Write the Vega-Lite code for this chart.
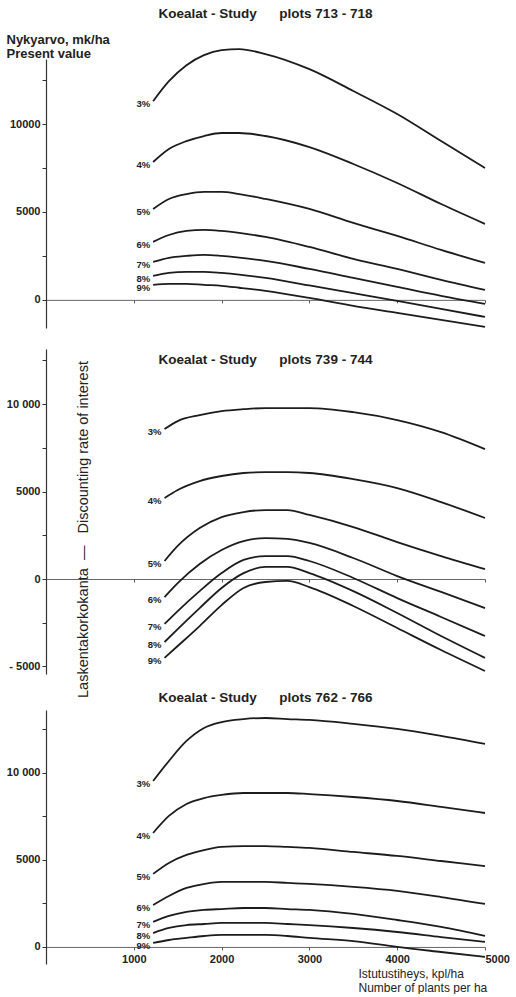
{
  "$schema": "https://vega.github.io/schema/vega-lite/v6.json",
  "padding": {"left": 6, "top": 6, "right": 0, "bottom": 0},
  "background": "white",
  "bounds": "flush",
  "spacing": 21,
  "config": {"view": {"stroke": null}, "font": "Liberation Sans", "axis": {"grid": false}},
  "datasets": {
    "curves": [
      {"panel":1,"rate":"3%","x":1220,"value":11300},{"panel":1,"rate":"3%","x":1400,"value":12440},{"panel":1,"rate":"3%","x":1600,"value":13350},{"panel":1,"rate":"3%","x":1800,"value":13920},{"panel":1,"rate":"3%","x":2000,"value":14200},{"panel":1,"rate":"3%","x":2200,"value":14260},{"panel":1,"rate":"3%","x":2500,"value":13980},{"panel":1,"rate":"3%","x":3000,"value":13120},{"panel":1,"rate":"3%","x":3500,"value":11880},{"panel":1,"rate":"3%","x":4000,"value":10570},{"panel":1,"rate":"3%","x":4500,"value":9030},{"panel":1,"rate":"3%","x":5000,"value":7500},
      {"panel":1,"rate":"4%","x":1220,"value":7840},{"panel":1,"rate":"4%","x":1400,"value":8580},{"panel":1,"rate":"4%","x":1600,"value":9030},{"panel":1,"rate":"4%","x":1800,"value":9320},{"panel":1,"rate":"4%","x":2000,"value":9490},{"panel":1,"rate":"4%","x":2200,"value":9490},{"panel":1,"rate":"4%","x":2500,"value":9320},{"panel":1,"rate":"4%","x":3000,"value":8690},{"panel":1,"rate":"4%","x":3500,"value":7730},{"panel":1,"rate":"4%","x":4000,"value":6650},{"panel":1,"rate":"4%","x":4500,"value":5450},{"panel":1,"rate":"4%","x":5000,"value":4320},
      {"panel":1,"rate":"5%","x":1220,"value":5170},{"panel":1,"rate":"5%","x":1400,"value":5740},{"panel":1,"rate":"5%","x":1600,"value":6020},{"panel":1,"rate":"5%","x":1800,"value":6140},{"panel":1,"rate":"5%","x":2000,"value":6140},{"panel":1,"rate":"5%","x":2200,"value":6020},{"panel":1,"rate":"5%","x":2500,"value":5740},{"panel":1,"rate":"5%","x":3000,"value":5170},{"panel":1,"rate":"5%","x":3500,"value":4375},{"panel":1,"rate":"5%","x":4000,"value":3640},{"panel":1,"rate":"5%","x":4500,"value":2840},{"panel":1,"rate":"5%","x":5000,"value":2100},
      {"panel":1,"rate":"6%","x":1220,"value":3300},{"panel":1,"rate":"6%","x":1400,"value":3690},{"panel":1,"rate":"6%","x":1600,"value":3920},{"panel":1,"rate":"6%","x":1800,"value":3980},{"panel":1,"rate":"6%","x":2000,"value":3920},{"panel":1,"rate":"6%","x":2200,"value":3810},{"panel":1,"rate":"6%","x":2500,"value":3580},{"panel":1,"rate":"6%","x":3000,"value":3010},{"panel":1,"rate":"6%","x":3500,"value":2330},{"panel":1,"rate":"6%","x":4000,"value":1760},{"panel":1,"rate":"6%","x":4500,"value":1140},{"panel":1,"rate":"6%","x":5000,"value":570},
      {"panel":1,"rate":"7%","x":1220,"value":2160},{"panel":1,"rate":"7%","x":1400,"value":2390},{"panel":1,"rate":"7%","x":1600,"value":2500},{"panel":1,"rate":"7%","x":1800,"value":2560},{"panel":1,"rate":"7%","x":2000,"value":2500},{"panel":1,"rate":"7%","x":2200,"value":2400},{"panel":1,"rate":"7%","x":2500,"value":2220},{"panel":1,"rate":"7%","x":3000,"value":1760},{"panel":1,"rate":"7%","x":3500,"value":1250},{"panel":1,"rate":"7%","x":4000,"value":740},{"panel":1,"rate":"7%","x":4500,"value":230},{"panel":1,"rate":"7%","x":5000,"value":-230},
      {"panel":1,"rate":"8%","x":1220,"value":1360},{"panel":1,"rate":"8%","x":1400,"value":1530},{"panel":1,"rate":"8%","x":1600,"value":1590},{"panel":1,"rate":"8%","x":1800,"value":1590},{"panel":1,"rate":"8%","x":2000,"value":1530},{"panel":1,"rate":"8%","x":2200,"value":1440},{"panel":1,"rate":"8%","x":2500,"value":1250},{"panel":1,"rate":"8%","x":3000,"value":820},{"panel":1,"rate":"8%","x":3500,"value":380},{"panel":1,"rate":"8%","x":4000,"value":-60},{"panel":1,"rate":"8%","x":4500,"value":-510},{"panel":1,"rate":"8%","x":5000,"value":-970},
      {"panel":1,"rate":"9%","x":1220,"value":850},{"panel":1,"rate":"9%","x":1400,"value":910},{"panel":1,"rate":"9%","x":1600,"value":910},{"panel":1,"rate":"9%","x":1800,"value":850},{"panel":1,"rate":"9%","x":2000,"value":800},{"panel":1,"rate":"9%","x":2200,"value":690},{"panel":1,"rate":"9%","x":2500,"value":510},{"panel":1,"rate":"9%","x":3000,"value":110},{"panel":1,"rate":"9%","x":3500,"value":-340},{"panel":1,"rate":"9%","x":4000,"value":-740},{"panel":1,"rate":"9%","x":4500,"value":-1140},{"panel":1,"rate":"9%","x":5000,"value":-1530},

      {"panel":2,"rate":"3%","x":1350,"value":8570},{"panel":2,"rate":"3%","x":1500,"value":9030},{"panel":2,"rate":"3%","x":1750,"value":9370},{"panel":2,"rate":"3%","x":2000,"value":9600},{"panel":2,"rate":"3%","x":2250,"value":9710},{"panel":2,"rate":"3%","x":2500,"value":9770},{"panel":2,"rate":"3%","x":2750,"value":9770},{"panel":2,"rate":"3%","x":3000,"value":9770},{"panel":2,"rate":"3%","x":3500,"value":9540},{"panel":2,"rate":"3%","x":4000,"value":9090},{"panel":2,"rate":"3%","x":4500,"value":8400},{"panel":2,"rate":"3%","x":5000,"value":7430},
      {"panel":2,"rate":"4%","x":1350,"value":4630},{"panel":2,"rate":"4%","x":1500,"value":5090},{"panel":2,"rate":"4%","x":1750,"value":5600},{"panel":2,"rate":"4%","x":2000,"value":5890},{"panel":2,"rate":"4%","x":2250,"value":6060},{"panel":2,"rate":"4%","x":2500,"value":6110},{"panel":2,"rate":"4%","x":2750,"value":6110},{"panel":2,"rate":"4%","x":3000,"value":6060},{"panel":2,"rate":"4%","x":3500,"value":5710},{"panel":2,"rate":"4%","x":4000,"value":5200},{"panel":2,"rate":"4%","x":4500,"value":4400},{"panel":2,"rate":"4%","x":5000,"value":3490},
      {"panel":2,"rate":"5%","x":1350,"value":1030},{"panel":2,"rate":"5%","x":1500,"value":1890},{"panel":2,"rate":"5%","x":1750,"value":2910},{"panel":2,"rate":"5%","x":2000,"value":3540},{"panel":2,"rate":"5%","x":2250,"value":3830},{"panel":2,"rate":"5%","x":2500,"value":3940},{"panel":2,"rate":"5%","x":2750,"value":3940},{"panel":2,"rate":"5%","x":3000,"value":3660},{"panel":2,"rate":"5%","x":3500,"value":2970},{"panel":2,"rate":"5%","x":4000,"value":2110},{"panel":2,"rate":"5%","x":4500,"value":1310},{"panel":2,"rate":"5%","x":5000,"value":570},
      {"panel":2,"rate":"6%","x":1350,"value":-1030},{"panel":2,"rate":"6%","x":1500,"value":-230},{"panel":2,"rate":"6%","x":1750,"value":860},{"panel":2,"rate":"6%","x":2000,"value":1660},{"panel":2,"rate":"6%","x":2250,"value":2170},{"panel":2,"rate":"6%","x":2500,"value":2340},{"panel":2,"rate":"6%","x":2750,"value":2290},{"panel":2,"rate":"6%","x":3000,"value":2060},{"panel":2,"rate":"6%","x":3500,"value":1200},{"panel":2,"rate":"6%","x":4000,"value":170},{"panel":2,"rate":"6%","x":4500,"value":-740},{"panel":2,"rate":"6%","x":5000,"value":-1660},
      {"panel":2,"rate":"7%","x":1350,"value":-2570},{"panel":2,"rate":"7%","x":1500,"value":-1830},{"panel":2,"rate":"7%","x":1750,"value":-690},{"panel":2,"rate":"7%","x":2000,"value":340},{"panel":2,"rate":"7%","x":2250,"value":1090},{"panel":2,"rate":"7%","x":2500,"value":1310},{"panel":2,"rate":"7%","x":2750,"value":1310},{"panel":2,"rate":"7%","x":3000,"value":1030},{"panel":2,"rate":"7%","x":3500,"value":60},{"panel":2,"rate":"7%","x":4000,"value":-1090},{"panel":2,"rate":"7%","x":4500,"value":-2170},{"panel":2,"rate":"7%","x":5000,"value":-3260},
      {"panel":2,"rate":"8%","x":1350,"value":-3600},{"panel":2,"rate":"8%","x":1500,"value":-2860},{"panel":2,"rate":"8%","x":1750,"value":-1660},{"panel":2,"rate":"8%","x":2000,"value":-510},{"panel":2,"rate":"8%","x":2250,"value":340},{"panel":2,"rate":"8%","x":2500,"value":690},{"panel":2,"rate":"8%","x":2750,"value":690},{"panel":2,"rate":"8%","x":3000,"value":340},{"panel":2,"rate":"8%","x":3500,"value":-690},{"panel":2,"rate":"8%","x":4000,"value":-1940},{"panel":2,"rate":"8%","x":4500,"value":-3260},{"panel":2,"rate":"8%","x":5000,"value":-4510},
      {"panel":2,"rate":"9%","x":1350,"value":-4510},{"panel":2,"rate":"9%","x":1500,"value":-3830},{"panel":2,"rate":"9%","x":1750,"value":-2690},{"panel":2,"rate":"9%","x":2000,"value":-1490},{"panel":2,"rate":"9%","x":2250,"value":-510},{"panel":2,"rate":"9%","x":2500,"value":-170},{"panel":2,"rate":"9%","x":2750,"value":-110},{"panel":2,"rate":"9%","x":3000,"value":-460},{"panel":2,"rate":"9%","x":3500,"value":-1540},{"panel":2,"rate":"9%","x":4000,"value":-2800},{"panel":2,"rate":"9%","x":4500,"value":-4060},{"panel":2,"rate":"9%","x":5000,"value":-5260},

      {"panel":3,"rate":"3%","x":1220,"value":9540},{"panel":3,"rate":"3%","x":1400,"value":10690},{"panel":3,"rate":"3%","x":1600,"value":11840},{"panel":3,"rate":"3%","x":1800,"value":12590},{"panel":3,"rate":"3%","x":2000,"value":12930},{"panel":3,"rate":"3%","x":2250,"value":13100},{"panel":3,"rate":"3%","x":2500,"value":13160},{"panel":3,"rate":"3%","x":2750,"value":13100},{"panel":3,"rate":"3%","x":3000,"value":13050},{"panel":3,"rate":"3%","x":3500,"value":12820},{"panel":3,"rate":"3%","x":4000,"value":12530},{"panel":3,"rate":"3%","x":4500,"value":12130},{"panel":3,"rate":"3%","x":5000,"value":11670},
      {"panel":3,"rate":"4%","x":1220,"value":6550},{"panel":3,"rate":"4%","x":1400,"value":7530},{"panel":3,"rate":"4%","x":1600,"value":8220},{"panel":3,"rate":"4%","x":1800,"value":8560},{"panel":3,"rate":"4%","x":2000,"value":8740},{"panel":3,"rate":"4%","x":2250,"value":8850},{"panel":3,"rate":"4%","x":2500,"value":8850},{"panel":3,"rate":"4%","x":2750,"value":8850},{"panel":3,"rate":"4%","x":3000,"value":8790},{"panel":3,"rate":"4%","x":3500,"value":8620},{"panel":3,"rate":"4%","x":4000,"value":8390},{"panel":3,"rate":"4%","x":4500,"value":8050},{"panel":3,"rate":"4%","x":5000,"value":7700},
      {"panel":3,"rate":"5%","x":1220,"value":4200},{"panel":3,"rate":"5%","x":1400,"value":4830},{"panel":3,"rate":"5%","x":1600,"value":5290},{"panel":3,"rate":"5%","x":1800,"value":5570},{"panel":3,"rate":"5%","x":2000,"value":5750},{"panel":3,"rate":"5%","x":2250,"value":5800},{"panel":3,"rate":"5%","x":2500,"value":5800},{"panel":3,"rate":"5%","x":2750,"value":5750},{"panel":3,"rate":"5%","x":3000,"value":5690},{"panel":3,"rate":"5%","x":3500,"value":5460},{"panel":3,"rate":"5%","x":4000,"value":5230},{"panel":3,"rate":"5%","x":4500,"value":4940},{"panel":3,"rate":"5%","x":5000,"value":4650},
      {"panel":3,"rate":"6%","x":1220,"value":2410},{"panel":3,"rate":"6%","x":1400,"value":2930},{"panel":3,"rate":"6%","x":1600,"value":3390},{"panel":3,"rate":"6%","x":1800,"value":3620},{"panel":3,"rate":"6%","x":2000,"value":3740},{"panel":3,"rate":"6%","x":2250,"value":3740},{"panel":3,"rate":"6%","x":2500,"value":3740},{"panel":3,"rate":"6%","x":2750,"value":3680},{"panel":3,"rate":"6%","x":3000,"value":3620},{"panel":3,"rate":"6%","x":3500,"value":3450},{"panel":3,"rate":"6%","x":4000,"value":3220},{"panel":3,"rate":"6%","x":4500,"value":2870},{"panel":3,"rate":"6%","x":5000,"value":2470},
      {"panel":3,"rate":"7%","x":1220,"value":1440},{"panel":3,"rate":"7%","x":1400,"value":1780},{"panel":3,"rate":"7%","x":1600,"value":2010},{"panel":3,"rate":"7%","x":1800,"value":2130},{"panel":3,"rate":"7%","x":2000,"value":2180},{"panel":3,"rate":"7%","x":2250,"value":2240},{"panel":3,"rate":"7%","x":2500,"value":2240},{"panel":3,"rate":"7%","x":2750,"value":2180},{"panel":3,"rate":"7%","x":3000,"value":2130},{"panel":3,"rate":"7%","x":3500,"value":1900},{"panel":3,"rate":"7%","x":4000,"value":1550},{"panel":3,"rate":"7%","x":4500,"value":1150},{"panel":3,"rate":"7%","x":5000,"value":630},
      {"panel":3,"rate":"8%","x":1220,"value":800},{"panel":3,"rate":"8%","x":1400,"value":1090},{"panel":3,"rate":"8%","x":1600,"value":1260},{"panel":3,"rate":"8%","x":1800,"value":1320},{"panel":3,"rate":"8%","x":2000,"value":1380},{"panel":3,"rate":"8%","x":2250,"value":1380},{"panel":3,"rate":"8%","x":2500,"value":1380},{"panel":3,"rate":"8%","x":2750,"value":1320},{"panel":3,"rate":"8%","x":3000,"value":1260},{"panel":3,"rate":"8%","x":3500,"value":1090},{"panel":3,"rate":"8%","x":4000,"value":860},{"panel":3,"rate":"8%","x":4500,"value":570},{"panel":3,"rate":"8%","x":5000,"value":290},
      {"panel":3,"rate":"9%","x":1220,"value":230},{"panel":3,"rate":"9%","x":1400,"value":400},{"panel":3,"rate":"9%","x":1600,"value":520},{"panel":3,"rate":"9%","x":1800,"value":630},{"panel":3,"rate":"9%","x":2000,"value":690},{"panel":3,"rate":"9%","x":2250,"value":690},{"panel":3,"rate":"9%","x":2500,"value":690},{"panel":3,"rate":"9%","x":2750,"value":630},{"panel":3,"rate":"9%","x":3000,"value":520},{"panel":3,"rate":"9%","x":3500,"value":340},{"panel":3,"rate":"9%","x":4000,"value":0},{"panel":3,"rate":"9%","x":4500,"value":-290},{"panel":3,"rate":"9%","x":5000,"value":-570}
    ]
  },
  "vconcat": [
    {
      "width": 439,
      "height": 269,
      "title": {"text": "Koealat - Study\u00a0\u00a0\u00a0\u00a0\u00a0\u00a0plots 713 - 718", "frame": "group", "anchor": "middle", "offset": 12.6, "fontSize": 13.5, "fontWeight": "bold", "color": "#222222", "font": "Liberation Sans"},
      "data": {"name": "curves"},
      "transform": [{"filter": "datum.panel == 1"}],
      "layer": [
        {
          "mark": {"type": "line", "interpolate": "monotone", "strokeWidth": 1.8, "color": "#1c1c1c"},
          "encoding": {
            "x": {"field": "x", "type": "quantitative", "scale": {"domain": [0, 5000], "nice": false, "zero": false},
              "axis": {"orient": "bottom", "offset": -28.13, "values": [1000, 2000, 3000, 4000, 5000], "labels": false, "title": null, "tickSize": 3, "tickColor": "#555555", "domainColor": "#666666", "domainWidth": 1}},
            "y": {"field": "value", "type": "quantitative", "scale": {"domain": [-1600, 13700], "nice": false, "zero": false},
              "axis": {"values": [0, 2500, 5000, 7500, 10000, 12500], "labelExpr": "datum.value % 5000 == 0 ? format(datum.value, 'd') : ''", "labelFontSize": 11, "labelFontWeight": "bold", "labelColor": "#222222", "labelPadding": 2, "tickSize": 4, "tickColor": "#333333", "domainColor": "#333333", "domainWidth": 1.2,
                "title": ["Nykyarvo, mk/ha", "Present value"], "titleAngle": 0, "titleAlign": "left", "titleBaseline": "top", "titleX": -40, "titleY": -26, "titleFontSize": 13, "titleFontWeight": "bold", "titleColor": "#222222", "titleLineHeight": 14.5}},
            "detail": {"field": "rate"}
          }
        },
        {
          "transform": [{"joinaggregate": [{"op": "min", "field": "x", "as": "x0"}], "groupby": ["rate"]}, {"filter": "datum.x == datum.x0"}],
          "mark": {"type": "text", "align": "right", "baseline": "middle", "dx": -3, "dy": 3, "fontSize": 9.5, "fontWeight": "bold", "color": "#222222"},
          "encoding": {"x": {"field": "x", "type": "quantitative"}, "y": {"field": "value", "type": "quantitative"}, "text": {"field": "rate"}}
        }
      ]
    },
    {
      "width": 439,
      "height": 325,
      "title": {"text": "Koealat - Study\u00a0\u00a0\u00a0\u00a0\u00a0\u00a0plots 739 - 744", "frame": "group", "anchor": "middle", "offset": -17.4, "fontSize": 13.5, "fontWeight": "bold", "color": "#222222", "font": "Liberation Sans"},
      "data": {"name": "curves"},
      "transform": [{"filter": "datum.panel == 2"}],
      "layer": [
        {
          "mark": {"type": "line", "interpolate": "monotone", "strokeWidth": 1.8, "color": "#1c1c1c"},
          "encoding": {
            "x": {"field": "x", "type": "quantitative", "scale": {"domain": [0, 5000], "nice": false, "zero": false},
              "axis": {"orient": "bottom", "offset": -95, "values": [1000, 2000, 3000, 4000, 5000], "labels": false, "title": null, "tickSize": 3, "tickColor": "#555555", "domainColor": "#666666", "domainWidth": 1}},
            "y": {"field": "value", "type": "quantitative", "scale": {"domain": [-5430, 13150], "nice": false, "zero": false},
              "axis": {"values": [-5000, -2500, 0, 2500, 5000, 7500, 10000, 12500], "labelExpr": "datum.value == 10000 ? '10 000' : datum.value == -5000 ? '- 5000' : datum.value % 5000 == 0 ? format(datum.value, 'd') : ''", "labelFontSize": 11, "labelFontWeight": "bold", "labelColor": "#222222", "labelPadding": 2, "tickSize": 4, "tickColor": "#333333", "domainColor": "#333333", "domainWidth": 1.2,
                "title": "Laskentakorkokanta\u00a0\u00a0—\u00a0\u00a0\u00a0Discounting rate of interest", "titleAngle": -90, "titleAlign": "center", "titleBaseline": "middle", "titleX": 37, "titleY": 180, "titleFontSize": 14.5, "titleFontWeight": "normal", "titleColor": "#222222"}},
            "detail": {"field": "rate"}
          }
        },
        {
          "transform": [{"joinaggregate": [{"op": "min", "field": "x", "as": "x0"}], "groupby": ["rate"]}, {"filter": "datum.x == datum.x0"}],
          "mark": {"type": "text", "align": "right", "baseline": "middle", "dx": -3, "dy": 3, "fontSize": 9.5, "fontWeight": "bold", "color": "#222222"},
          "encoding": {"x": {"field": "x", "type": "quantitative"}, "y": {"field": "value", "type": "quantitative"}, "text": {"field": "rate"}}
        }
      ]
    },
    {
      "width": 439,
      "height": 269,
      "title": {"text": "Koealat - Study\u00a0\u00a0\u00a0\u00a0\u00a0\u00a0plots 762 - 766", "frame": "group", "anchor": "middle", "offset": -9.4, "fontSize": 13.5, "fontWeight": "bold", "color": "#222222", "font": "Liberation Sans"},
      "data": {"name": "curves"},
      "transform": [{"filter": "datum.panel == 3"}],
      "layer": [
        {
          "mark": {"type": "line", "interpolate": "monotone", "strokeWidth": 1.8, "color": "#1c1c1c"},
          "encoding": {
            "x": {"field": "x", "type": "quantitative", "scale": {"domain": [0, 5000], "nice": false, "zero": false},
              "axis": {"orient": "bottom", "offset": -17.05, "values": [1000, 2000, 3000, 4000, 5000], "labelExpr": "format(datum.value, 'd')", "labelFontSize": 11, "labelFontWeight": "bold", "labelColor": "#222222", "labelPadding": 4, "labelAlign": {"condition": {"test": "datum.value == 5000", "value": "left"}, "value": "center"}, "tickSize": 3, "tickColor": "#555555", "domainColor": "#666666", "domainWidth": 1,
                "title": ["Istutustiheys, kpl/ha", "Number of plants per ha"], "titleX": 312, "titleY": 22, "titleAlign": "left", "titleBaseline": "top", "titleFontSize": 12, "titleFontWeight": "normal", "titleColor": "#222222", "titleLineHeight": 14}},
            "y": {"field": "value", "type": "quantitative", "scale": {"domain": [-980, 13620], "nice": false, "zero": false, "range": [269, 15]},
              "axis": {"values": [0, 2500, 5000, 7500, 10000, 12500], "labelExpr": "datum.value == 10000 ? '10 000' : datum.value % 5000 == 0 ? format(datum.value, 'd') : ''", "labelFontSize": 11, "labelFontWeight": "bold", "labelColor": "#222222", "labelPadding": 2, "tickSize": 4, "tickColor": "#333333", "domainColor": "#333333", "domainWidth": 1.2, "title": null}},
            "detail": {"field": "rate"}
          }
        },
        {
          "transform": [{"joinaggregate": [{"op": "min", "field": "x", "as": "x0"}], "groupby": ["rate"]}, {"filter": "datum.x == datum.x0"}],
          "mark": {"type": "text", "align": "right", "baseline": "middle", "dx": -3, "dy": 3, "fontSize": 9.5, "fontWeight": "bold", "color": "#222222"},
          "encoding": {"x": {"field": "x", "type": "quantitative"}, "y": {"field": "value", "type": "quantitative"}, "text": {"field": "rate"}}
        }
      ]
    }
  ]
}
